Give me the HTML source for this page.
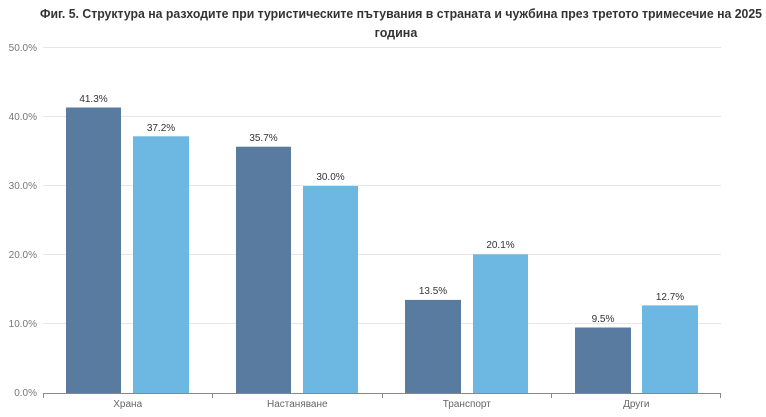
<!DOCTYPE html>
<html><head><meta charset="utf-8"><style>
body{margin:0;background:#fff}
svg{display:block;font-family:"Liberation Sans",sans-serif}
</style></head><body>
<svg width="766" height="417" viewBox="0 0 766 417">
<text x="40" y="18" font-size="12.5" font-weight="bold" fill="#333" textLength="722" lengthAdjust="spacingAndGlyphs">Фиг. 5. Структура на разходите при туристическите пътувания в страната и чужбина през третото тримесечие на 2025</text>
<text x="396" y="37" text-anchor="middle" font-size="12.5" font-weight="bold" fill="#333">година</text>
<g stroke="#e6e6e6" stroke-width="1">
<line x1="43" x2="721" y1="47.5" y2="47.5"/>
<line x1="43" x2="721" y1="116.5" y2="116.5"/>
<line x1="43" x2="721" y1="185.5" y2="185.5"/>
<line x1="43" x2="721" y1="254.5" y2="254.5"/>
<line x1="43" x2="721" y1="323.5" y2="323.5"/>
</g>
<g font-size="10" fill="#777" text-anchor="end">
<text x="37" y="51">50.0%</text>
<text x="37" y="120">40.0%</text>
<text x="37" y="189">30.0%</text>
<text x="37" y="258">20.0%</text>
<text x="37" y="327">10.0%</text>
<text x="37" y="396">0.0%</text>
</g>
<g fill="#587b9f">
<rect x="66" y="107.5" width="55" height="285.5"/>
<rect x="236" y="146.7" width="55" height="246.3"/>
<rect x="405" y="299.9" width="56" height="93.1"/>
<rect x="575" y="327.5" width="56" height="65.5"/>
</g>
<g fill="#6cb8e2">
<rect x="133" y="136.3" width="56" height="256.7"/>
<rect x="303" y="186" width="55" height="207"/>
<rect x="473" y="254.3" width="55" height="138.7"/>
<rect x="642" y="305.4" width="56" height="87.6"/>
</g>
<g font-size="10" fill="#333" text-anchor="middle">
<text x="93.5" y="102">41.3%</text>
<text x="161" y="131">37.2%</text>
<text x="263.5" y="141">35.7%</text>
<text x="330.5" y="180">30.0%</text>
<text x="433" y="294">13.5%</text>
<text x="500.5" y="248">20.1%</text>
<text x="603" y="322">9.5%</text>
<text x="670" y="300">12.7%</text>
</g>
<g stroke="#888" stroke-width="1">
<line x1="43" x2="721" y1="393.5" y2="393.5"/>
<line x1="43.5" x2="43.5" y1="393" y2="398"/>
<line x1="212.5" x2="212.5" y1="393" y2="398"/>
<line x1="382.5" x2="382.5" y1="393" y2="398"/>
<line x1="551.5" x2="551.5" y1="393" y2="398"/>
<line x1="720.5" x2="720.5" y1="393" y2="398"/>
</g>
<g font-size="10" fill="#666" text-anchor="middle">
<text x="127.7" y="407">Храна</text>
<text x="297.3" y="407">Настаняване</text>
<text x="466.8" y="407">Транспорт</text>
<text x="636.3" y="407">Други</text>
</g>
</svg>
</body></html>
